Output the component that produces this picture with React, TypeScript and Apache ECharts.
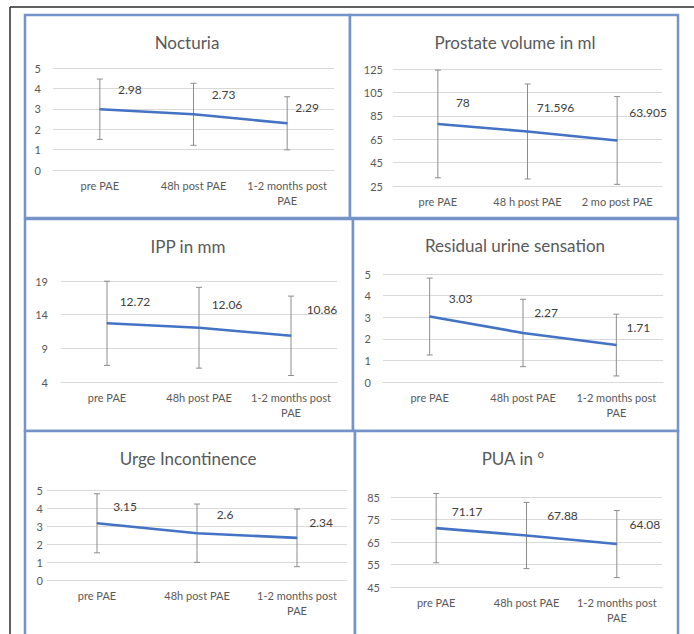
import React, { useEffect, useRef } from "react";
import * as echarts from "echarts";

// ---- Data ----
const categoriesStd = ["pre PAE", "48h post PAE", "1-2 months post\nPAE"];
const categoriesProstate = ["pre PAE", "48 h post PAE", "2 mo post PAE"];

const nocturiaMean = [2.98, 2.73, 2.29];
const nocturiaErr = [1.48, 1.52, 1.3];

const prostateMean = [78, 71.596, 63.905];
const prostateErr = [46, 40.6, 37.5];

const ippMean = [12.72, 12.06, 10.86];
const ippErr = [6.25, 6.0, 5.9];

const residualMean = [3.03, 2.27, 1.71];
const residualErr = [1.78, 1.56, 1.43];

const urgeMean = [3.15, 2.6, 2.34];
const urgeErr = [1.64, 1.62, 1.6];

const puaMean = [71.17, 67.88, 64.08];
const puaErr = [15.4, 14.7, 14.9];

const titles = [
  "Nocturia",
  "Prostate volume in ml",
  "IPP in mm",
  "Residual urine sensation",
  "Urge Incontinence",
  "PUA in °",
];

const yMin = [0, 25, 4, 0, 0, 45];
const yMax = [5, 125, 19, 5, 5, 85];
const yInterval = [1, 20, 5, 1, 1, 10];

// ---- Layout / style (not data) ----
const FONT = "Lato, 'Open Sans', sans-serif";
const panels = [
  { box: [25, 15, 325, 203], title: [187, 42], grid: [53, 68, 281, 102], yMargin: 12,
    offs: [[30, -20], [30, -20], [20, -16]] },
  { box: [350, 15, 328, 203], title: [515, 42], grid: [393, 69, 269, 117], yMargin: 10,
    offs: [[25, -21], [28, -24], [31, -28]] },
  { box: [25, 219, 328, 212], title: [188, 246], grid: [61, 281, 276, 101], yMargin: 13,
    offs: [[28, -22], [28, -23], [31, -26]] },
  { box: [353, 219, 325, 212], title: [515, 245], grid: [383, 274, 280, 108], yMargin: 12,
    offs: [[31, -18], [23, -20], [22, -18]] },
  { box: [25, 431, 330, 215], title: [188, 458], grid: [47, 490, 300, 90], yMargin: 4,
    offs: [[28, -17], [28, -19], [24, -15]] },
  { box: [355, 431, 323, 215], title: [513, 458], grid: [391, 497, 271, 90], yMargin: 11,
    offs: [[31, -17], [36, -20], [28, -20]] },
];

const means = [nocturiaMean, prostateMean, ippMean, residualMean, urgeMean, puaMean];
const errs = [nocturiaErr, prostateErr, ippErr, residualErr, urgeErr, puaErr];
const cats = [categoriesStd, categoriesProstate, categoriesStd, categoriesStd, categoriesStd, categoriesStd];

export default function App() {
  const ref = useRef<HTMLDivElement>(null);

  useEffect(() => {
    if (!ref.current) return;
    const chart = echarts.init(ref.current, undefined, { renderer: "svg" });

    const grids: any[] = [];
    const xAxes: any[] = [];
    const yAxes: any[] = [];
    const series: any[] = [];
    const graphics: any[] = [];

    // outer black frame (top + left edges visible)
    graphics.push({
      type: "line",
      shape: { x1: 10, y1: 7, x2: 694, y2: 7 },
      style: { stroke: "#2b2b2b", lineWidth: 1.5 },
      silent: true,
    });
    graphics.push({
      type: "line",
      shape: { x1: 10, y1: 7, x2: 10, y2: 634 },
      style: { stroke: "#2b2b2b", lineWidth: 1.5 },
      silent: true,
    });

    panels.forEach((p, i) => {
      const [bx, by, bw, bh] = p.box;
      graphics.push({
        type: "rect",
        shape: { x: bx, y: by, width: bw, height: bh },
        style: { fill: "#ffffff", stroke: "#7393c9", lineWidth: 2.5 },
        silent: true,
        z: -10,
      });
      graphics.push({
        type: "text",
        x: p.title[0],
        y: p.title[1],
        style: {
          text: titles[i],
          align: "center",
          verticalAlign: "middle",
          fontSize: 17,
          fontFamily: FONT,
          fill: "#595959",
        },
        silent: true,
      });

      const [gl, gt, gw, gh] = p.grid;
      grids.push({ left: gl, top: gt, width: gw, height: gh, containLabel: false });
      xAxes.push({
        type: "category",
        gridIndex: i,
        data: cats[i],
        boundaryGap: true,
        axisLine: { show: true, lineStyle: { color: "#d9d9d9", width: 1 } },
        axisTick: { show: false },
        axisLabel: {
          color: "#595959",
          fontSize: 11,
          fontFamily: FONT,
          margin: 8,
          lineHeight: 15,
          interval: 0,
        },
        splitLine: { show: false },
      });
      yAxes.push({
        type: "value",
        gridIndex: i,
        min: yMin[i],
        max: yMax[i],
        interval: yInterval[i],
        axisLine: { show: false },
        axisTick: { show: false },
        axisLabel: {
          color: "#595959",
          fontSize: 11,
          fontFamily: FONT,
          margin: p.yMargin,
        },
        splitLine: { show: true, lineStyle: { color: "#d9d9d9", width: 1 } },
      });

      const errData = means[i].map((m, k) => [k, m - errs[i][k], m + errs[i][k]]);
      series.push({
        type: "custom",
        xAxisIndex: i,
        yAxisIndex: i,
        z: 1,
        silent: true,
        encode: { x: 0, y: [1, 2] },
        data: errData,
        renderItem: (params: any, api: any) => {
          const x = api.value(0);
          const lo = api.coord([x, api.value(1)]);
          const hi = api.coord([x, api.value(2)]);
          const cw = 3;
          const style = { stroke: "#8c8c8c", lineWidth: 1 };
          return {
            type: "group",
            children: [
              { type: "line", shape: { x1: hi[0], y1: hi[1], x2: lo[0], y2: lo[1] }, style },
              { type: "line", shape: { x1: hi[0] - cw, y1: hi[1], x2: hi[0] + cw, y2: hi[1] }, style },
              { type: "line", shape: { x1: lo[0] - cw, y1: lo[1], x2: lo[0] + cw, y2: lo[1] }, style },
            ],
          };
        },
      });

      series.push({
        type: "line",
        xAxisIndex: i,
        yAxisIndex: i,
        z: 3,
        symbol: "circle",
        symbolSize: 1,
        showSymbol: true,
        itemStyle: { color: "#4472c4" },
        lineStyle: { color: "#4472c4", width: 2.6 },
        label: {
          show: true,
          position: "inside",
          color: "#404040",
          opacity: 1,
          fontSize: 12,
          fontFamily: FONT,
        },
        data: means[i].map((m, k) => ({
          value: m,
          label: {
            show: true,
            position: "inside",
            offset: p.offs[k],
            color: "#404040",
            opacity: 1,
            fontSize: 12,
            fontFamily: FONT,
          },
        })),
      });
    });

    chart.setOption({
      animation: false,
      backgroundColor: "#ffffff",
      grid: grids,
      xAxis: xAxes,
      yAxis: yAxes,
      series,
      graphic: { elements: graphics },
    });

    return () => {
      chart.dispose();
    };
  }, []);

  return (
    <div
      ref={ref}
      style={{ position: "absolute", left: 0, top: 0, width: 694, height: 634 }}
    />
  );
}
